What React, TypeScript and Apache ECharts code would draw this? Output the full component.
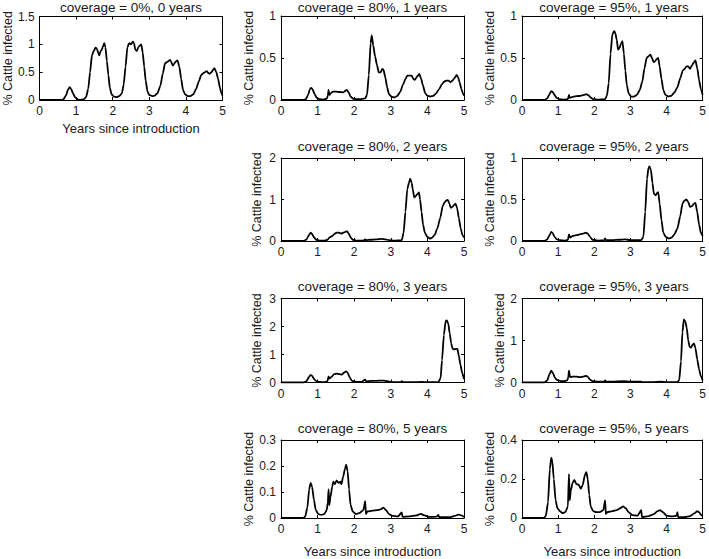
import React, { useEffect, useRef } from "react";
import * as echarts from "echarts";

const titles = [
  "coverage = 0%, 0 years",
  "coverage = 80%, 1 years",
  "coverage = 95%, 1 years",
  "coverage = 80%, 2 years",
  "coverage = 95%, 2 years",
  "coverage = 80%, 3 years",
  "coverage = 95%, 3 years",
  "coverage = 80%, 5 years",
  "coverage = 95%, 5 years",
];
const yMax = [1.5, 1, 1, 2, 1, 3, 2, 0.3, 0.4];
const yStep = [0.5, 0.5, 0.5, 1, 0.5, 1, 1, 0.1, 0.2];
const xName = "Years since introduction";
const yName = "% Cattle infected";

const cov0y0 = [[0,0],[0.6,0],[0.65,0.01],[0.72,0.08],[0.78,0.19],[0.82,0.23],[0.86,0.2],[0.92,0.11],[0.98,0.04],[1.05,0.01],[1.1,0],[1.2,0.01],[1.27,0.05],[1.33,0.2],[1.38,0.5],[1.43,0.8],[1.48,0.88],[1.53,0.94],[1.57,0.92],[1.6,0.85],[1.63,0.8],[1.67,0.88],[1.7,0.9],[1.73,0.96],[1.77,1.02],[1.8,0.95],[1.84,0.7],[1.88,0.45],[1.92,0.22],[1.97,0.1],[2.03,0.06],[2.1,0.05],[2.18,0.07],[2.25,0.12],[2.3,0.28],[2.35,0.6],[2.4,0.95],[2.45,1.02],[2.5,1.0],[2.55,1.05],[2.58,1.02],[2.62,0.9],[2.66,0.88],[2.7,0.95],[2.75,0.98],[2.78,1.0],[2.82,0.85],[2.86,0.6],[2.9,0.35],[2.95,0.15],[3.0,0.09],[3.08,0.07],[3.15,0.08],[3.22,0.12],[3.3,0.25],[3.37,0.48],[3.43,0.66],[3.48,0.68],[3.52,0.7],[3.57,0.72],[3.6,0.68],[3.64,0.62],[3.68,0.65],[3.72,0.69],[3.77,0.71],[3.82,0.6],[3.87,0.38],[3.92,0.18],[3.98,0.1],[4.05,0.07],[4.12,0.07],[4.2,0.1],[4.28,0.2],[4.35,0.33],[4.42,0.45],[4.47,0.48],[4.52,0.5],[4.57,0.52],[4.6,0.49],[4.65,0.47],[4.7,0.5],[4.75,0.55],[4.78,0.57],[4.83,0.5],[4.88,0.38],[4.93,0.22],[4.97,0.12],[5.0,0.08]];
const cov80y1 = [[0,0],[0.62,0],[0.68,0.01],[0.74,0.06],[0.79,0.13],[0.82,0.145],[0.86,0.13],[0.92,0.07],[0.98,0.025],[1.05,0.01],[1.15,0.005],[1.25,0.015],[1.28,0.05],[1.3,0.12],[1.32,0.06],[1.36,0.08],[1.42,0.1],[1.5,0.1],[1.6,0.095],[1.7,0.09],[1.76,0.11],[1.8,0.12],[1.85,0.09],[1.9,0.04],[1.97,0.015],[2.05,0.01],[2.2,0.01],[2.3,0.02],[2.35,0.06],[2.4,0.3],[2.45,0.68],[2.48,0.77],[2.52,0.65],[2.57,0.52],[2.62,0.42],[2.67,0.33],[2.72,0.33],[2.77,0.37],[2.8,0.36],[2.85,0.27],[2.9,0.15],[2.95,0.07],[3.02,0.04],[3.1,0.03],[3.18,0.05],[3.26,0.1],[3.33,0.18],[3.4,0.25],[3.45,0.29],[3.52,0.29],[3.57,0.29],[3.62,0.25],[3.66,0.24],[3.72,0.28],[3.78,0.31],[3.83,0.25],[3.88,0.17],[3.94,0.08],[4.0,0.05],[4.08,0.04],[4.16,0.05],[4.24,0.08],[4.32,0.13],[4.4,0.19],[4.46,0.22],[4.52,0.23],[4.58,0.23],[4.63,0.21],[4.68,0.23],[4.74,0.26],[4.8,0.3],[4.84,0.27],[4.88,0.21],[4.93,0.13],[4.97,0.08],[5.0,0.05]];
const cov95y1 = [[0,0],[0.63,0],[0.7,0.02],[0.76,0.07],[0.81,0.105],[0.85,0.095],[0.9,0.06],[0.96,0.025],[1.03,0.01],[1.15,0.005],[1.27,0.01],[1.3,0.06],[1.32,0.025],[1.38,0.035],[1.5,0.045],[1.62,0.05],[1.72,0.06],[1.78,0.07],[1.84,0.055],[1.9,0.03],[1.97,0.01],[2.1,0.005],[2.3,0.01],[2.35,0.05],[2.4,0.2],[2.45,0.55],[2.5,0.78],[2.55,0.82],[2.58,0.8],[2.62,0.72],[2.66,0.6],[2.7,0.62],[2.74,0.67],[2.78,0.7],[2.82,0.55],[2.86,0.35],[2.9,0.18],[2.95,0.08],[3.02,0.04],[3.1,0.04],[3.18,0.06],[3.26,0.12],[3.33,0.22],[3.39,0.38],[3.45,0.5],[3.5,0.52],[3.55,0.54],[3.6,0.5],[3.64,0.45],[3.68,0.46],[3.73,0.49],[3.77,0.5],[3.81,0.4],[3.86,0.25],[3.91,0.12],[3.97,0.06],[4.05,0.04],[4.13,0.05],[4.22,0.09],[4.3,0.15],[4.38,0.26],[4.45,0.35],[4.5,0.37],[4.55,0.4],[4.6,0.4],[4.65,0.37],[4.7,0.41],[4.76,0.45],[4.8,0.47],[4.85,0.38],[4.9,0.24],[4.95,0.13],[5.0,0.06]];
const cov80y2 = [[0,0],[0.62,0],[0.7,0.04],[0.76,0.14],[0.81,0.2],[0.85,0.17],[0.9,0.09],[0.96,0.03],[1.05,0.01],[1.2,0.01],[1.27,0.03],[1.32,0.08],[1.4,0.12],[1.47,0.18],[1.52,0.2],[1.58,0.2],[1.65,0.18],[1.7,0.2],[1.76,0.22],[1.8,0.24],[1.85,0.18],[1.9,0.09],[1.96,0.03],[2.05,0.01],[2.25,0.01],[2.3,0.04],[2.33,0.02],[2.45,0.03],[2.6,0.04],[2.75,0.05],[2.85,0.04],[2.95,0.02],[3.1,0.01],[3.3,0.02],[3.35,0.2],[3.4,0.7],[3.45,1.25],[3.5,1.42],[3.53,1.5],[3.57,1.4],[3.6,1.25],[3.64,1.05],[3.68,1.08],[3.72,1.12],[3.77,1.17],[3.8,1.0],[3.84,0.7],[3.88,0.4],[3.93,0.2],[4.0,0.1],[4.07,0.06],[4.13,0.08],[4.2,0.15],[4.27,0.3],[4.35,0.55],[4.42,0.85],[4.47,0.93],[4.52,0.98],[4.56,0.99],[4.6,0.9],[4.64,0.8],[4.68,0.82],[4.73,0.87],[4.77,0.9],[4.81,0.8],[4.86,0.55],[4.91,0.3],[4.96,0.14],[5.0,0.08]];
const cov95y2 = [[0,0],[0.62,0],[0.7,0.02],[0.76,0.07],[0.81,0.11],[0.85,0.095],[0.9,0.05],[0.96,0.02],[1.05,0.01],[1.2,0.005],[1.27,0.015],[1.3,0.08],[1.33,0.04],[1.4,0.06],[1.5,0.07],[1.6,0.08],[1.7,0.09],[1.77,0.1],[1.82,0.09],[1.88,0.05],[1.95,0.015],[2.1,0.005],[2.28,0.01],[2.3,0.03],[2.33,0.01],[2.5,0.01],[2.7,0.015],[2.85,0.02],[3.0,0.01],[3.3,0.01],[3.36,0.05],[3.41,0.35],[3.46,0.75],[3.5,0.88],[3.53,0.9],[3.57,0.85],[3.61,0.7],[3.65,0.57],[3.7,0.55],[3.74,0.58],[3.77,0.59],[3.81,0.45],[3.86,0.25],[3.91,0.1],[3.98,0.05],[4.06,0.03],[4.14,0.04],[4.22,0.08],[4.3,0.15],[4.38,0.3],[4.44,0.45],[4.5,0.49],[4.55,0.5],[4.6,0.47],[4.65,0.41],[4.7,0.42],[4.76,0.45],[4.8,0.46],[4.85,0.35],[4.9,0.2],[4.95,0.1],[5.0,0.06]];
const cov80y3 = [[0,0],[0.62,0],[0.7,0.05],[0.76,0.19],[0.81,0.27],[0.85,0.24],[0.9,0.13],[0.96,0.05],[1.05,0.02],[1.2,0.01],[1.27,0.05],[1.3,0.22],[1.33,0.14],[1.38,0.2],[1.45,0.3],[1.52,0.32],[1.6,0.3],[1.66,0.28],[1.72,0.35],[1.78,0.4],[1.82,0.35],[1.87,0.2],[1.93,0.07],[2.0,0.03],[2.2,0.02],[2.3,0.1],[2.33,0.04],[2.45,0.06],[2.6,0.06],[2.75,0.07],[2.85,0.06],[2.95,0.03],[3.1,0.01],[3.28,0.02],[3.3,0.05],[3.33,0.01],[3.6,0.01],[3.85,0.02],[4.0,0.01],[4.3,0.02],[4.36,0.15],[4.4,0.8],[4.45,1.7],[4.5,2.2],[4.53,2.22],[4.57,2.1],[4.61,1.75],[4.65,1.4],[4.69,1.2],[4.73,1.18],[4.78,1.2],[4.82,1.2],[4.86,0.95],[4.9,0.65],[4.95,0.35],[5.0,0.12]];
const cov95y3 = [[0,0],[0.62,0],[0.7,0.05],[0.76,0.2],[0.81,0.28],[0.86,0.22],[0.91,0.11],[0.97,0.06],[1.05,0.04],[1.15,0.03],[1.25,0.05],[1.28,0.12],[1.3,0.28],[1.33,0.13],[1.4,0.14],[1.5,0.14],[1.6,0.13],[1.7,0.14],[1.78,0.16],[1.83,0.13],[1.88,0.07],[1.95,0.03],[2.1,0.02],[2.28,0.02],[2.3,0.05],[2.33,0.02],[2.5,0.02],[2.8,0.03],[3.0,0.02],[3.3,0.02],[3.32,0.01],[3.6,0.01],[3.85,0.02],[4.0,0.01],[4.3,0.01],[4.35,0.05],[4.4,0.5],[4.44,1.2],[4.48,1.5],[4.52,1.45],[4.56,1.3],[4.6,1.0],[4.64,0.85],[4.68,0.83],[4.72,0.9],[4.76,0.93],[4.8,0.82],[4.85,0.55],[4.9,0.32],[4.95,0.15],[5.0,0.05]];
const cov80y5 = [[0,0],[0.6,0],[0.66,0.005],[0.72,0.04],[0.77,0.11],[0.81,0.135],[0.85,0.12],[0.9,0.07],[0.95,0.03],[1.02,0.015],[1.1,0.012],[1.18,0.015],[1.25,0.03],[1.28,0.06],[1.3,0.11],[1.32,0.05],[1.35,0.08],[1.4,0.12],[1.43,0.14],[1.47,0.13],[1.52,0.145],[1.57,0.135],[1.62,0.14],[1.65,0.13],[1.7,0.16],[1.75,0.19],[1.78,0.205],[1.82,0.18],[1.86,0.11],[1.9,0.05],[1.96,0.025],[2.05,0.015],[2.15,0.02],[2.25,0.03],[2.3,0.065],[2.32,0.015],[2.36,0.025],[2.5,0.028],[2.62,0.03],[2.72,0.033],[2.8,0.04],[2.87,0.03],[2.95,0.015],[3.05,0.008],[3.2,0.006],[3.3,0.022],[3.32,0.004],[3.5,0.006],[3.7,0.01],[3.82,0.016],[3.92,0.01],[4.05,0.004],[4.25,0.005],[4.3,0.012],[4.32,0.003],[4.6,0.003],[4.75,0.008],[4.85,0.013],[4.93,0.01],[5.0,0.004]];
const cov95y5 = [[0,0],[0.6,0],[0.66,0.01],[0.72,0.08],[0.77,0.25],[0.81,0.31],[0.84,0.29],[0.88,0.2],[0.93,0.09],[0.98,0.05],[1.05,0.035],[1.12,0.025],[1.2,0.03],[1.27,0.06],[1.3,0.225],[1.32,0.09],[1.35,0.14],[1.4,0.18],[1.45,0.195],[1.5,0.175],[1.57,0.17],[1.63,0.15],[1.68,0.17],[1.74,0.22],[1.78,0.235],[1.82,0.2],[1.86,0.12],[1.9,0.06],[1.97,0.035],[2.05,0.03],[2.15,0.03],[2.25,0.04],[2.3,0.09],[2.32,0.02],[2.36,0.03],[2.5,0.035],[2.62,0.04],[2.72,0.05],[2.8,0.06],[2.87,0.05],[2.95,0.03],[3.05,0.015],[3.2,0.012],[3.3,0.04],[3.32,0.005],[3.5,0.01],[3.65,0.02],[3.75,0.035],[3.82,0.04],[3.9,0.03],[4.0,0.012],[4.15,0.008],[4.28,0.012],[4.3,0.03],[4.32,0.005],[4.5,0.005],[4.65,0.01],[4.78,0.025],[4.85,0.035],[4.9,0.03],[4.96,0.015],[5.0,0.01]];

const seriesData = [cov0y0, cov80y1, cov95y1, cov80y2, cov95y2, cov80y3, cov95y3, cov80y5, cov95y5];

// layout (pixels)
const grids = [
  { left: 39.5, top: 16.5, width: 183, height: 83.5 },
  { left: 281, top: 16, width: 183, height: 84 },
  { left: 522, top: 16, width: 184, height: 84 },
  { left: 281, top: 158, width: 183, height: 83 },
  { left: 522, top: 158, width: 184, height: 83 },
  { left: 281, top: 298.5, width: 183, height: 84 },
  { left: 522, top: 298.5, width: 184, height: 84 },
  { left: 281, top: 440, width: 183, height: 84 },
  { left: 522, top: 440, width: 184, height: 84 },
];
const yNameGaps = [18, 23, 23.5, 17.5, 23.5, 17.5, 15.5, 23, 23.5];
const showXName = [true, false, false, false, false, false, false, true, true];
const xNameGaps = [22, 0, 0, 0, 0, 0, 0, 27, 27];

const FONT = "'Liberation Sans', Arial, Helvetica, sans-serif";
const TXT = "#1a1a1a";

export default function App() {
  const ref = useRef<HTMLDivElement>(null);
  useEffect(() => {
    document.body.style.margin = "0";
    const chart = echarts.init(ref.current!, null, { renderer: "svg" });
    const xAxes: any[] = [];
    const yAxes: any[] = [];
    const series: any[] = [];
    const title: any[] = [];
    grids.forEach((g, i) => {
      const common = { min: 0, max: 5, interval: 1, gridIndex: i, type: "value" };
      xAxes.push({
        ...common,
        position: "bottom",
        name: showXName[i] ? xName : "",
        nameLocation: "middle",
        nameGap: xNameGaps[i],
        nameTextStyle: { color: TXT, fontSize: 13, fontFamily: FONT },
        axisLine: { show: true, onZero: false, lineStyle: { color: "#000", width: 1 } },
        axisTick: { show: true, inside: true, length: 3, lineStyle: { color: "#000" } },
        axisLabel: { color: TXT, fontSize: 12, fontFamily: FONT, margin: 5 },
        splitLine: { show: false },
      });
      xAxes.push({
        ...common,
        position: "top",
        axisLine: { show: true, onZero: false, lineStyle: { color: "#000", width: 1 } },
        axisTick: { show: true, inside: true, length: 3, lineStyle: { color: "#000" } },
        axisLabel: { show: false },
        splitLine: { show: false },
      });
      const ycommon = { min: 0, max: yMax[i], interval: yStep[i], gridIndex: i, type: "value" };
      yAxes.push({
        ...ycommon,
        position: "left",
        name: yName,
        nameLocation: "middle",
        nameGap: yNameGaps[i],
        nameRotate: 90,
        nameTextStyle: { color: TXT, fontSize: 12.5, fontFamily: FONT },
        axisLine: { show: true, onZero: false, lineStyle: { color: "#000", width: 1 } },
        axisTick: { show: true, inside: true, length: 3, lineStyle: { color: "#000" } },
        axisLabel: { color: TXT, fontSize: 12, fontFamily: FONT, margin: 5 },
        splitLine: { show: false },
      });
      yAxes.push({
        ...ycommon,
        position: "right",
        axisLine: { show: true, onZero: false, lineStyle: { color: "#000", width: 1 } },
        axisTick: { show: true, inside: true, length: 3, lineStyle: { color: "#000" } },
        axisLabel: { show: false },
        splitLine: { show: false },
      });
      series.push({
        type: "line",
        xAxisIndex: i * 2,
        yAxisIndex: i * 2,
        data: seriesData[i],
        showSymbol: false,
        smooth: 0.2,
        smoothMonotone: "x",
        lineStyle: { color: "#000", width: 1.8 },
        clip: true,
      });
      title.push({
        text: titles[i],
        left: g.left + g.width / 2,
        top: Math.max(0, g.top - 19),
        textAlign: "center",
        padding: 0,
        textStyle: { color: TXT, fontSize: 13.5, fontWeight: "normal", fontFamily: FONT },
      });
    });
    chart.setOption({
      animation: false,
      backgroundColor: "#fff",
      title,
      grid: grids.map((g) => ({ ...g, containLabel: false })),
      xAxis: xAxes,
      yAxis: yAxes,
      series,
    });
    return () => chart.dispose();
  }, []);
  return <div ref={ref} style={{ width: 709, height: 559 }} />;
}
